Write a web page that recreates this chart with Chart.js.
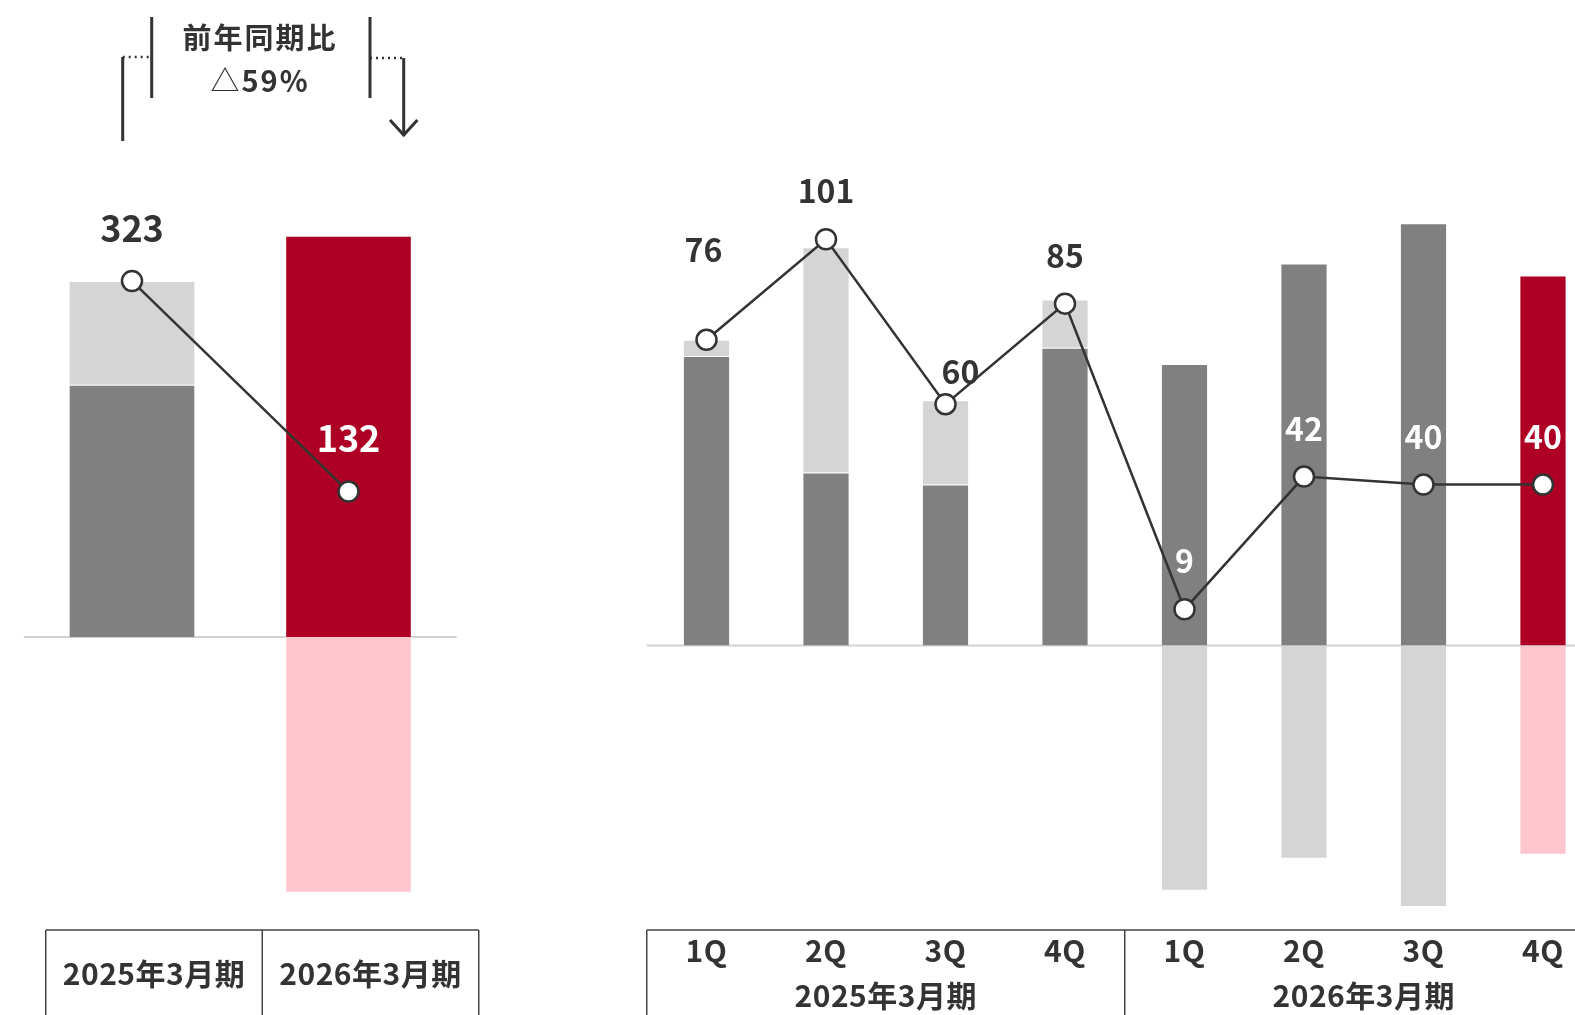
<!DOCTYPE html>
<html lang="ja">
<head>
<meta charset="utf-8">
<script src="https://cdn.jsdelivr.net/npm/chart.js@4/dist/chart.umd.min.js"></script>
<style>
  html, body { margin: 0; padding: 0; background: #fff; overflow: hidden; width: 1575px; height: 1015px; }
  body { position: relative; font-family: "Noto Sans CJK JP", "Noto Sans", sans-serif; color: #333; }
  .layer { position: absolute; left: 0; top: 0; }
  #yoy { position: absolute; left: 160px; top: 15px; width: 200px; text-align: center;
         font-weight: 700; font-size: 29px; line-height: 43px; letter-spacing: 2px; color: #333; }
  #yoy .tri { font-weight: 400; }
</style>
</head>
<body>
<canvas id="annual" class="layer" width="1575" height="1015" style="width:1575px;height:1015px"></canvas>
<canvas id="quarterly" class="layer" width="1650" height="1015" style="width:1650px;height:1015px"></canvas>

<svg class="layer" width="1575" height="220" fill="none" stroke="#333" stroke-width="3">
  <path d="M122.7 57 V141 M151.7 17 V98 M370 17 V98 M403.7 58 V136"/>
  <path d="M122.7 57 H151.7 M370 58 H403.7" stroke-width="2.5" stroke-dasharray="2 4"/>
  <path d="M390 120 L403.7 135 L417.4 120" stroke-width="3"/>
</svg>
<div id="yoy">前年同期比<br><span class="tri">△</span>59%</div>

<script>
// 通期
const annualLabels = ['2025年3月期', '2026年3月期'];
const annualBase = [229, 364];
const annualAdj = [94, -232];
const annualProfit = [323, 132];

// 四半期
const quarterLabels = ['1Q', '2Q', '3Q', '4Q', '1Q', '2Q', '3Q', '4Q'];
const fyLabels = ['2025年3月期', '2026年3月期'];
const quarterBase = [72, 43, 40, 74, 70, 95, 105, 92];
const quarterAdj = [4, 56, 21, 12, -61, -53, -65, -52];
const quarterProfit = [76, 101, 60, 85, 9, 42, 40, 40];

const GRAY = '#808080';
const LIGHT = '#d5d5d5';
const RED = '#ae0024';
const PINK = '#ffc6d0';
const INK = '#333333';
const FONT = '"Noto Sans CJK JP", "Noto Sans", sans-serif';

const zeroLine = {
  id: 'zeroLine',
  beforeDatasetsDraw(chart) {
    const ctx = chart.ctx;
    const y = chart.scales.y.getPixelForValue(0);
    ctx.save();
    ctx.strokeStyle = '#d2d2d2';
    ctx.lineWidth = 2;
    ctx.beginPath();
    ctx.moveTo(chart.chartArea.left, y);
    ctx.lineTo(chart.chartArea.right, y);
    ctx.stroke();
    ctx.restore();
  }
};

const valueLabels = {
  id: 'valueLabels',
  afterDatasetsDraw(chart, args, opts) {
    const ctx = chart.ctx;
    const ds = chart.data.datasets[opts.dataset];
    const meta = chart.getDatasetMeta(opts.dataset);
    ctx.save();
    ctx.font = `700 ${opts.size}px ${FONT}`;
    ctx.textAlign = 'center';
    ctx.textBaseline = 'middle';
    meta.data.forEach((pt, i) => {
      const s = (opts.shift && opts.shift[i]) || [0, -opts.gap];
      ctx.fillStyle = opts.colors[i];
      ctx.fillText(String(ds.data[i]), pt.x + s[0], pt.y + s[1]);
    });
    ctx.restore();
  }
};

function lineSet(data) {
  return {
    type: 'line',
    data: data,
    stack: 'line',
    order: 0,
    clip: false,
    borderColor: INK,
    borderWidth: 2.5,
    pointRadius: 10,
    pointBackgroundColor: '#fff',
    pointBorderColor: INK,
    pointBorderWidth: 2.5
  };
}

// 通期チャート
new Chart(document.getElementById('annual'), {
  type: 'bar',
  data: {
    labels: annualLabels,
    datasets: [
      { data: annualBase, backgroundColor: [GRAY, RED], order: 1,
        barPercentage: 0.585, categoryPercentage: 1, borderWidth: 1, borderColor: 'rgba(255,255,255,0.3)' },
      { data: annualAdj, backgroundColor: [LIGHT, PINK], order: 1,
        barPercentage: 0.585, categoryPercentage: 1, borderWidth: 1, borderColor: 'rgba(255,255,255,0.3)' },
      lineSet(annualProfit)
    ]
  },
  options: {
    responsive: false,
    animation: false,
    layout: { padding: { left: 23.75, right: 1118.25, top: 86, bottom: 25.36 } },
    scales: {
      x: { display: false, stacked: true },
      y: { display: false, stacked: true, min: -320, max: 500 }
    },
    plugins: {
      legend: { display: false },
      tooltip: { enabled: false },
      valueLabels: { dataset: 2, size: 36, gap: 53, colors: [INK, '#fff'] }
    }
  },
  plugins: [zeroLine, valueLabels, {
    id: 'annualTable',
    afterDraw(chart) {
      const ctx = chart.ctx;
      const x = chart.scales.x;
      const step = x.getPixelForValue(1) - x.getPixelForValue(0);
      const edges = [0, 1, 2].map(i => x.getPixelForValue(0) - step / 2 + i * step + 22);
      ctx.save();
      ctx.strokeStyle = '#444';
      ctx.lineWidth = 1.5;
      ctx.beginPath();
      ctx.moveTo(edges[0], 930);
      ctx.lineTo(edges[2], 930);
      edges.forEach(e => { ctx.moveTo(e, 930); ctx.lineTo(e, 1015); });
      ctx.stroke();
      ctx.font = `700 30px ${FONT}`;
      ctx.letterSpacing = '0.5px';
      ctx.fillStyle = INK;
      ctx.textAlign = 'center';
      ctx.textBaseline = 'middle';
      annualLabels.forEach((t, i) => ctx.fillText(t, (edges[i] + edges[i + 1]) / 2, 974));
      ctx.restore();
    }
  }]
});

// 四半期チャート
new Chart(document.getElementById('quarterly'), {
  type: 'bar',
  data: {
    labels: quarterLabels,
    datasets: [
      { data: quarterBase, backgroundColor: quarterBase.map((v, i) => i === 7 ? RED : GRAY), order: 1,
        barPercentage: 0.395, categoryPercentage: 1, borderWidth: 1, borderColor: 'rgba(255,255,255,0.3)' },
      { data: quarterAdj, backgroundColor: quarterAdj.map((v, i) => i === 7 ? PINK : LIGHT), order: 1,
        barPercentage: 0.395, categoryPercentage: 1, borderWidth: 1, borderColor: 'rgba(255,255,255,0.3)' },
      lineSet(quarterProfit)
    ]
  },
  options: {
    responsive: false,
    animation: false,
    layout: { padding: { left: 646.75, right: 47.25, top: 162.86, bottom: 87.96 } },
    scales: {
      x: { display: false, stacked: true },
      y: { display: false, stacked: true, min: -70, max: 120 }
    },
    plugins: {
      legend: { display: false },
      tooltip: { enabled: false },
      valueLabels: {
        dataset: 2, size: 32, gap: 48,
        colors: [INK, INK, INK, INK, '#fff', '#fff', '#fff', '#fff'],
        shift: { 0: [-3, -90], 2: [15, -32] }
      }
    }
  },
  plugins: [zeroLine, valueLabels, {
    id: 'quarterTable',
    afterDraw(chart) {
      const ctx = chart.ctx;
      const x = chart.scales.x;
      const step = x.getPixelForValue(1) - x.getPixelForValue(0);
      const starts = [0, 4].map(i => x.getPixelForValue(i) - step / 2);
      ctx.save();
      ctx.strokeStyle = '#444';
      ctx.lineWidth = 1.5;
      ctx.beginPath();
      ctx.moveTo(starts[0], 930);
      ctx.lineTo(chart.width, 930);
      starts.forEach(e => { ctx.moveTo(e, 930); ctx.lineTo(e, 1015); });
      ctx.stroke();
      ctx.font = `700 30px ${FONT}`;
      ctx.letterSpacing = '0.5px';
      ctx.fillStyle = INK;
      ctx.textAlign = 'center';
      ctx.textBaseline = 'middle';
      quarterLabels.forEach((t, i) => ctx.fillText(t, x.getPixelForValue(i), 951));
      fyLabels.forEach((t, g) => {
        const cx = (x.getPixelForValue(g * 4) + x.getPixelForValue(g * 4 + 3)) / 2;
        ctx.fillText(t, cx, 996);
      });
      ctx.restore();
    }
  }]
});
</script>
</body>
</html>
